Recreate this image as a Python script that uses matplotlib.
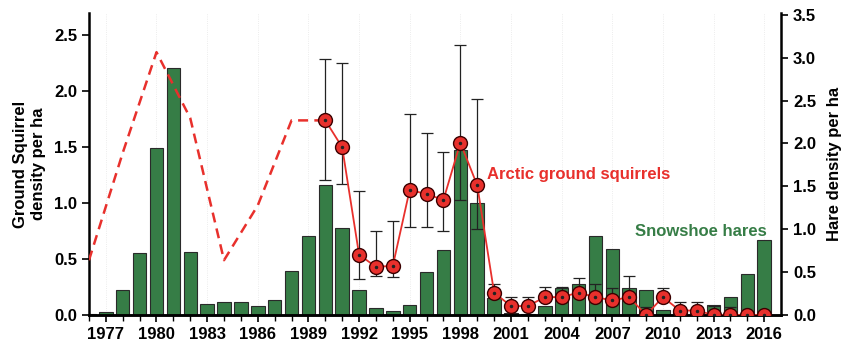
import matplotlib
matplotlib.use('Agg')
import matplotlib.pyplot as plt
import numpy as np

plt.rcParams['font.family'] = ['Liberation Sans', 'DejaVu Sans']
plt.rcParams['font.weight'] = 'bold'

# snowshoe hare density (right axis), one bar per year
hare_years = list(range(1976, 2017))
hare = [0.01, 0.03, 0.29, 0.72, 1.95, 2.88, 0.74, 0.13, 0.15, 0.15,
        0.10, 0.17, 0.51, 0.92, 1.51, 1.01, 0.29, 0.08, 0.05, 0.12,
        0.50, 0.76, 1.92, 1.31, 0.20, 0.02, 0.01, 0.10, 0.32, 0.36,
        0.92, 0.77, 0.32, 0.29, 0.06, 0.04, 0.02, 0.12, 0.21, 0.48, 0.88]

# ground squirrel density, early years (estimated, dashed)
sq_years_est = [1976, 1978, 1980, 1982, 1984, 1986, 1988, 1990]
sq_est = [0.49, 1.45, 2.35, 1.76, 0.49, 0.98, 1.74, 1.74]

# ground squirrel density with error bar ends
sq_years = list(range(1990, 2017))
sq = [1.74, 1.50, 0.54, 0.43, 0.44, 1.12, 1.08, 1.03, 1.54, 1.16,
      0.20, 0.08, 0.08, 0.16, 0.16, 0.20, 0.16, 0.13, 0.16, 0.00,
      0.16, 0.04, 0.04, 0.00, 0.00, 0.00, 0.00]
sq_hi = [2.29, 2.25, 1.11, 0.75, 0.84, 1.80, 1.63, 1.46, 2.41, 1.93,
         0.28, 0.16, 0.16, 0.25, 0.25, 0.33, 0.28, 0.24, 0.35, 0.07,
         0.24, 0.12, 0.12, 0.08, 0.07, 0.00, 0.00]
sq_lo = [1.21, 1.17, 0.32, 0.35, 0.34, 0.79, 0.79, 0.75, 1.03, 0.77,
         0.16, 0.06, 0.06, 0.13, 0.13, 0.17, 0.13, 0.10, 0.13, 0.00,
         0.13, 0.02, 0.02, 0.00, 0.00, 0.00, 0.00]

red = '#e8302c'
green = '#367d46'

fig = plt.figure(figsize=(8.49, 3.48), dpi=100)
ax = fig.add_axes([0.1048, 0.0948, 0.8152, 0.8678])
ax2 = ax.twinx()
ax.set_zorder(ax2.get_zorder() + 1)
ax.patch.set_visible(False)

# bars (hares)
ax2.bar(hare_years, hare, width=0.8, color=green, edgecolor='#2a2a2a', linewidth=0.8)

# squirrels
ax.plot(sq_years_est, sq_est, color=red, lw=1.8, ls=(0, (4, 2.5)), zorder=3)
sq_a = np.array(sq)
yerr = [sq_a - np.array(sq_lo), np.array(sq_hi) - sq_a]
ax.errorbar(sq_years, sq, yerr=yerr, fmt='none', ecolor='#222222',
            elinewidth=0.9, capsize=4, capthick=0.9, zorder=2)
ax.plot(sq_years, sq, color=red, lw=1.3, zorder=3)
ax.plot(sq_years, sq, 'o', ms=10, mfc=red, mec='#3a0000', mew=1.0, zorder=4)
ax.plot(sq_years, sq, 'o', ms=1.5, color='#222222', zorder=5)

ax.set_xlim(1976, 2017)
ax.set_ylim(0, 2.7)
ax2.set_ylim(0, 3.52)

ax.set_xticks(range(1977, 2017, 3))
ax.set_xticks(range(1976, 2017), minor=True)
ax.set_yticks(np.arange(0, 2.6, 0.5))
ax.set_yticklabels([f'{v:.1f}' for v in np.arange(0, 2.6, 0.5)])
ax2.set_yticks(np.arange(0, 3.6, 0.5))
ax2.set_yticklabels([f'{v:.1f}' for v in np.arange(0, 3.6, 0.5)])

for a in (ax, ax2):
    a.tick_params(axis='both', which='major', labelsize=12, length=5, width=1.2, direction='out')
    a.tick_params(axis='x', which='minor', length=4, width=1.0, direction='out')
    a.spines['top'].set_visible(False)
    for s in ('left', 'right', 'bottom'):
        a.spines[s].set_linewidth(1.8)
ax2.tick_params(axis='x', which='both', bottom=False, labelbottom=False)
ax.spines['right'].set_visible(False)
ax2.spines['left'].set_visible(False)

for x in range(1977, 2017, 3):
    ax2.axvline(x, color='#e6e6e6', lw=0.6, ls=':', zorder=0)

ax.set_ylabel('Ground Squirrel\ndensity per ha', fontsize=12, fontweight='bold', labelpad=6)
ax2.set_ylabel('Hare density per ha', fontsize=12, fontweight='bold', labelpad=8)

ax.text(1999.58, 1.22, 'Arctic ground squirrels', color=red, fontsize=12, fontweight='bold')
ax.text(2008.35, 0.71, 'Snowshoe hares', color=green, fontsize=12, fontweight='bold')

fig.savefig('out.png', dpi=100)
